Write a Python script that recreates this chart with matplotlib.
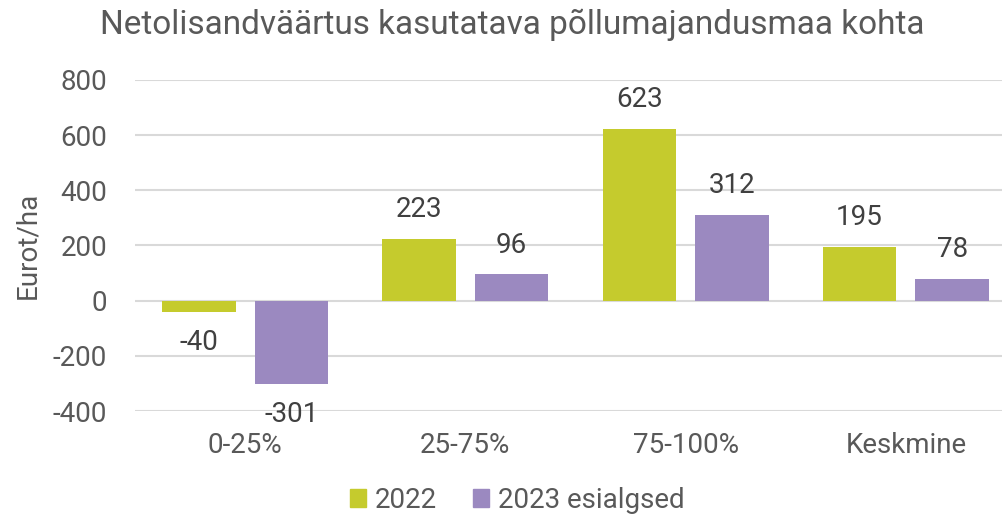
import matplotlib
matplotlib.use("Agg")
import matplotlib.pyplot as plt
import numpy as np
from matplotlib.patches import Patch

plt.rcParams['font.family'] = ['Roboto', 'DejaVu Sans']

categories = ["0-25%", "25-75%", "75-100%", "Keskmine"]
series_names = ["2022", "2023 esialgsed"]
values_2022 = [-40, 223, 623, 195]
values_2023 = [-301, 96, 312, 78]
yticks = [-400, -200, 0, 200, 400, 600, 800]
title = "Netolisandväärtus kasutatava põllumajandusmaa kohta"
ylabel = "Eurot/ha"

c_green = "#C5CB2D"
c_purple = "#9B89C0"
tick_col = "#595959"
lab_col = "#404040"

W, H = 1002, 518
fig = plt.figure(figsize=(W/100, H/100), dpi=100)
ax = fig.add_axes([135/W, 1 - 411/H, 881/W, 331/H])

x = np.arange(len(categories))
bw = 0.334
off = 0.21
b1 = ax.bar(x - off, values_2022, bw, color=c_green, zorder=3)
b2 = ax.bar(x + off, values_2023, bw, color=c_purple, zorder=3)

for bars, vals in ((b1, values_2022), (b2, values_2023)):
    for b, v in zip(bars, vals):
        cx = b.get_x() + b.get_width()/2
        dy = 21 if v >= 0 else -22
        ax.annotate(f"{v}", (cx, v), xytext=(0, dy), textcoords="offset points",
                    ha="center", va="center", fontsize=20, color=lab_col)

ax.set_xlim(-0.5, len(categories) - 0.5)
ax.set_ylim(-400, 800)
ax.set_yticks(yticks)
ax.set_yticklabels([str(t) for t in yticks])
ax.set_xticks(x)
ax.set_xticklabels(categories)
ax.tick_params(axis='both', length=0, labelsize=20, colors=tick_col)
ax.tick_params(axis='y', pad=20)
ax.tick_params(axis='x', pad=15)
ax.grid(axis='y', color="#D9D9D9", linewidth=1.5, zorder=0)
for s in ax.spines.values():
    s.set_visible(False)

ax.set_ylabel(ylabel, fontsize=20, color=tick_col, labelpad=8)
fig.text(512/W, 1 - 25/H, title, ha="center", va="center", fontsize=24, color=tick_col)

handles = [Patch(color=c_green), Patch(color=c_purple)]
fig.legend(handles, series_names, loc="center", bbox_to_anchor=(517/W, 1 - 500/H),
           ncol=2, frameon=False, fontsize=20, labelcolor=tick_col,
           handlelength=0.6, handleheight=0.6, handletextpad=0.3, columnspacing=1.3)

fig.savefig("out.png", dpi=100)
